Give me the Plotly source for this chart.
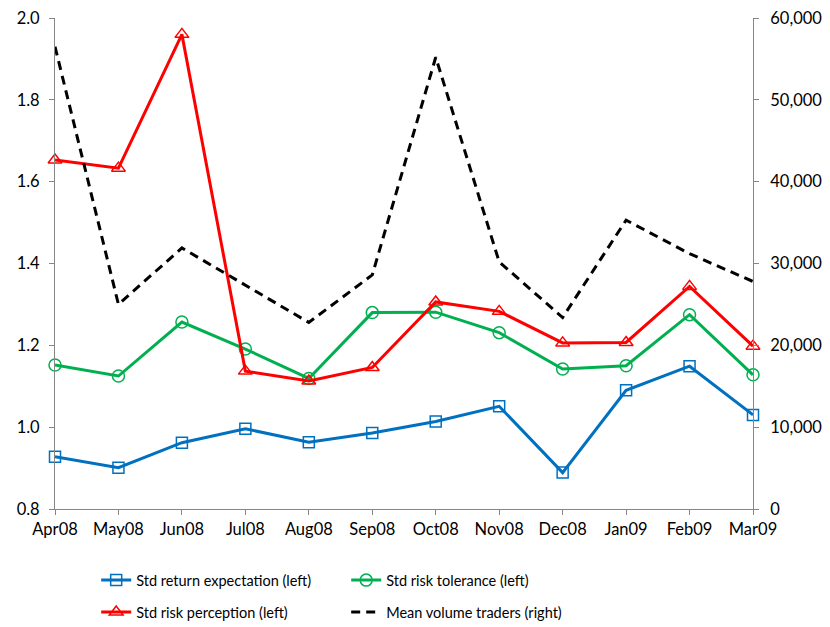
import plotly.graph_objects as go

months = ["Apr08", "May08", "Jun08", "Jul08", "Aug08", "Sep08",
          "Oct08", "Nov08", "Dec08", "Jan09", "Feb09", "Mar09"]
std_return = [0.928, 0.901, 0.962, 0.996, 0.963, 0.986, 1.014, 1.051, 0.889, 1.090, 1.149, 1.030]
std_tolerance = [1.152, 1.125, 1.257, 1.191, 1.119, 1.280, 1.281, 1.231, 1.142, 1.150, 1.275, 1.128]
std_perception = [1.653, 1.633, 1.960, 1.137, 1.113, 1.146, 1.306, 1.283, 1.206, 1.207, 1.344, 1.198]
mean_volume = [56500, 25000, 31900, 27400, 22800, 28600, 55200, 30200, 23400, 35300, 31200, 27800]

FONT = "Lato"
fig = go.Figure()

fig.add_trace(go.Scatter(
    x=months, y=std_return, name="Std return expectation (left)",
    mode="lines+markers", line=dict(color="#0070C0", width=3),
    marker=dict(symbol="square-open", size=11, color="#0070C0", line=dict(width=1.5)),
    cliponaxis=False, legend="legend"))
fig.add_trace(go.Scatter(
    x=months, y=std_tolerance, name="Std risk tolerance (left)",
    mode="lines+markers", line=dict(color="#00B050", width=3),
    marker=dict(symbol="circle-open", size=12, color="#00B050", line=dict(width=1.5)),
    cliponaxis=False, legend="legend"))
fig.add_trace(go.Scatter(
    x=months, y=std_perception, name="Std risk perception (left)",
    mode="lines+markers", line=dict(color="#FF0000", width=3),
    marker=dict(symbol="triangle-up-open", size=12, color="#FF0000", line=dict(width=1.5)),
    cliponaxis=False, legend="legend2"))
fig.add_trace(go.Scatter(
    x=months, y=mean_volume, name="Mean volume traders (right)", yaxis="y2",
    mode="lines", line=dict(color="#000000", width=3, dash="9px,6px"),
    cliponaxis=False, legend="legend2"))

axis_common = dict(showline=True, linecolor="#868686", linewidth=1, ticks="outside",
                   ticklen=5, tickcolor="#868686", showgrid=False, zeroline=False,
                   automargin=False, ticklabeloverflow="allow",
                   tickfont=dict(family=FONT, size=16.5, color="#000000"))

legend_common = dict(orientation="h", xanchor="left", yanchor="middle",
                     entrywidth=205, entrywidthmode="pixels",
                     font=dict(family=FONT, size=14.5, color="#000000"),
                     bgcolor="rgba(0,0,0,0)")

# page body has an 8px margin, so the figure is drawn offset by (8, 8)
fig.update_layout(
    width=822, height=619,
    margin=dict(l=47, r=77, t=10, b=118, autoexpand=False),
    paper_bgcolor="white", plot_bgcolor="white",
    font=dict(family=FONT, size=15, color="#000000"),
    xaxis=dict(type="category", range=[0, 11], **axis_common),
    yaxis=dict(range=[0.8, 2.0], dtick=0.2, tickformat=".1f",
               ticklabelstandoff=6, **axis_common),
    yaxis2=dict(range=[0, 60000], dtick=10000, tickformat=",d", overlaying="y",
                side="right", ticklabelstandoff=8, **axis_common),
    legend=dict(x=0.059, y=-0.145, **legend_common),
    legend2=dict(x=0.059, y=-0.21, **legend_common),
)

fig.write_html("out.html")
